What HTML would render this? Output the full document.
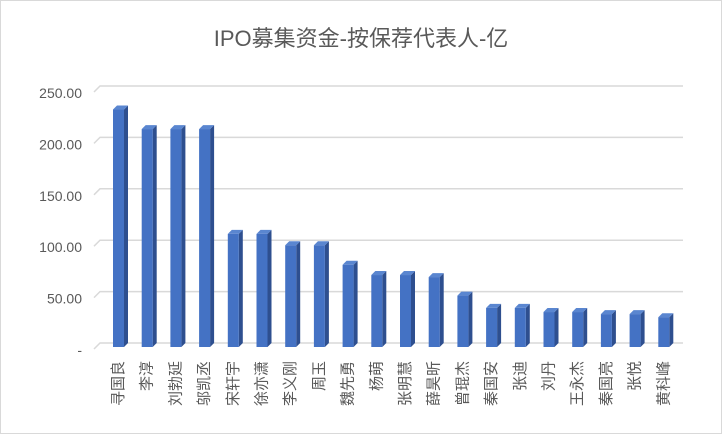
<!DOCTYPE html>
<html><head><meta charset="utf-8">
<style>
body{margin:0;background:#fff;}
#wrap{position:relative;width:722px;height:434px;overflow:hidden;background:#fff;}
svg text{font-family:"Liberation Sans","Noto Sans CJK SC",sans-serif;}
</style></head>
<body>
<div id="wrap">
<svg id="chart" width="722" height="434">
<rect x="0.5" y="0.5" width="721" height="433" fill="#fff" stroke="#d9d9d9"/>
<text x="361" y="46" text-anchor="middle" font-size="22" fill="#595959">IPO募集资金-按保荐代表人-亿</text>
<g id="grid"></g><g id="bars"></g><g id="labels"></g>
</svg>
</div>
<script>
const categories=["寻国良","李淳","刘勃延","邬凯丞","宋轩宇","徐亦潇","李义刚","周玉","魏先勇","杨萌","张明慧","薛昊昕","曾琨杰","秦国安","张迪","刘丹","王永杰","秦国亮","张悦","黄科峰"];
const values=[231,212,212,212,110,110,99,99,80,70,70,68,50,38,38,34,34,32,32,29];
const ticks=[0,50,100,150,200,250];
const tickLabels=["-","50.00","100.00","150.00","200.00","250.00"];
const NS="http://www.w3.org/2000/svg";
const y0=347,k=1.028,dx=5,dy=5;
function y(v){return y0-v*k;}
function x(i){return 113+i*28.7;}
function mk(t,a,p){const e=document.createElementNS(NS,t);for(const n in a)e.setAttribute(n,a[n]);p.appendChild(e);return e;}
const grid=document.getElementById('grid');
ticks.forEach((t,i)=>{
  const g=mk('polyline',{points:`94,${y(t)+2} ${94+dx+1},${y(t)-dy+1} 683,${y(t)-dy+1}`,fill:'none',stroke:'#d9d9d9','stroke-width':1.5},grid);
  
  
  const l=mk('text',{x:82,y:y(t)+8,'text-anchor':'end','font-size':14,fill:'#595959'},grid);
  l.textContent=tickLabels[i];
  
  
});
const bars=document.getElementById('bars'),labels=document.getElementById('labels');
values.forEach((v,i)=>{
  const x0=x(i),w=11,top=y(v);
  const g=mk('g',{},bars);
  
  
  mk('polygon',{points:`${x0+w},${top} ${x0+w+dx-1},${top-dy+1} ${x0+w+dx-1},${y0-dy+1} ${x0+w},${y0}`,fill:'#2e4f8f'},g);
  mk('polygon',{points:`${x0},${top} ${x0+dx-1},${top-dy+1} ${x0+w+dx-1},${top-dy+1} ${x0+w},${top}`,fill:'#5a86d0'},g);
  mk('rect',{x:x0,y:top,width:w,height:y0-top,fill:'#4472c4'},g);
  const t=mk('text',{x:x0+w/2+6,y:360,'font-size':15,fill:'#595959','writing-mode':'tb','glyph-orientation-vertical':0,'text-anchor':'start'},labels);
  t.textContent=categories[i];
  t.setAttribute('transform',`rotate(180 ${x0+w/2+1} 360) translate(0,0)`);
  
  
});
// vertical labels rendered bottom-to-top: rebuild as rotated horizontal text
labels.innerHTML='';
values.forEach((v,i)=>{
  const cx=x(i)+6;
  const t=mk('text',{x:0,y:0,'font-size':15,fill:'#595959','text-anchor':'start','dominant-baseline':'middle'},labels);
  t.textContent=categories[i];
  t.setAttribute('transform',`translate(${cx},${361+categories[i].length*15}) rotate(-90)`);
  
  
});
</script>
</body></html>
